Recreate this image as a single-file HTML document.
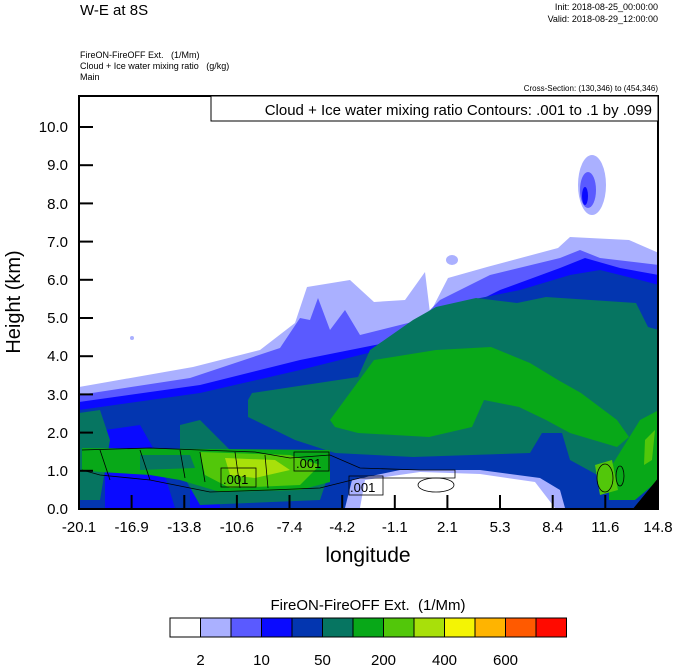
<!DOCTYPE html>
<html><head><meta charset="utf-8"><style>
html,body{margin:0;padding:0;background:#fff;}
svg{display:block;font-family:"Liberation Sans",sans-serif;}
</style></head><body>
<svg width="674" height="667" viewBox="0 0 674 667" xmlns="http://www.w3.org/2000/svg">
<rect width="674" height="667" fill="#fff"/>
<text x="80" y="15" font-size="15">W-E at 8S</text>
<text x="658" y="10" font-size="9" text-anchor="end">Init: 2018-08-25_00:00:00</text>
<text x="658" y="22" font-size="9" text-anchor="end">Valid: 2018-08-29_12:00:00</text>
<text x="80" y="58" font-size="9" xml:space="preserve">FireON-FireOFF Ext.   (1/Mm)</text>
<text x="80" y="69" font-size="9" xml:space="preserve">Cloud + Ice water mixing ratio   (g/kg)</text>
<text x="80" y="80" font-size="9">Main</text>
<text x="658" y="91" font-size="8" text-anchor="end">Cross-Section: (130,346) to (454,346)</text>
<defs><clipPath id="c"><rect x="79" y="96" width="579" height="413"/></clipPath></defs>
<g clip-path="url(#c)">
<polygon fill="#aab0ff" points="79,387 193,367 260,350 295,323 307,287 350,280 374,302 405,300 425,272 430,313 448,278 487,267 558,248 570,237 629,240 659,253 659,510 79,510"/>
<polygon fill="#5a5aff" points="79,395 190,378 280,348 300,318 310,320 318,298 330,330 345,310 360,335 420,320 440,300 490,275 560,258 580,250 600,258 659,265 659,510 79,510"/>
<polygon fill="#0a0aff" points="79,402 200,385 300,360 400,340 440,320 500,290 560,268 585,258 620,268 659,275 659,510 79,510"/>
<polygon fill="#0336b0" points="79,410 200,393 300,370 380,350 430,330 470,300 520,290 570,275 600,270 640,280 659,285 659,510 79,510"/>
<ellipse cx="592" cy="185" rx="14" ry="30" fill="#aab0ff"/>
<ellipse cx="588" cy="190" rx="8" ry="18" fill="#5a5aff"/>
<ellipse cx="585" cy="196" rx="3" ry="9" fill="#0a0aff"/>
<ellipse cx="452" cy="260" rx="6" ry="5" fill="#aab0ff"/>
<circle cx="132" cy="338" r="2" fill="#aab0ff"/>
<polygon fill="#0a0aff" points="105,430 140,425 160,460 175,508 105,508"/>
<polygon fill="#0a0aff" points="190,430 215,440 220,508 190,508"/>
<polygon fill="#067561" points="248,400 252,393 358,377 370,350 413,320 436,307 476,298 517,303 546,297 636,303 648,327 659,330 659,487 601,477 570,460 562,433 542,433 530,453 413,457 335,453 295,440 248,417"/>
<polygon fill="#067561" points="79,413 100,410 110,440 100,500 79,500"/>
<polygon fill="#067561" points="180,425 200,420 230,450 300,455 330,470 320,500 200,505 180,470"/>
<polygon fill="#aab0ff" points="345,508 352,480 400,470 480,470 540,478 560,490 565,508"/>
<polygon fill="#fff" points="360,508 365,480 420,472 480,474 535,482 555,508"/>
<polygon fill="#08a818" points="330,420 374,360 436,350 491,347 530,363 558,380 581,393 617,420 629,437 617,447 570,433 546,420 519,407 484,400 472,427 429,437 358,433 335,427"/>
<polygon fill="#08a818" points="609,470 640,420 659,410 659,480 635,500 609,500"/>
<polygon fill="#52c70a" points="645,440 655,430 652,460 644,465"/>
<polygon fill="#08a818" points="82,448 330,450 330,482 300,490 220,492 180,480 150,475 100,472 82,470"/>
<polygon fill="#52c70a" points="200,452 290,455 320,465 300,485 230,488 205,475"/>
<polygon fill="#a8e00a" points="225,458 275,460 290,470 255,478 230,475"/>
<polygon fill="#067561" points="140,455 190,455 195,468 140,470"/>
<polygon fill="#52c70a" points="595,465 612,460 618,490 600,495"/>
<polygon fill="#000" points="632,510 659,477 659,510"/>
<g fill="none" stroke="#000" stroke-width="0.8">
<path d="M82,450 L150,448 L200,450 L255,452 L290,458 L330,455 L360,468 L420,470 L455,470 L455,478 L420,478 L360,478 L320,488 L270,490 L210,492 L150,480 L100,475 L82,470"/>
<path d="M100,450 L110,480 M140,450 L150,480 M180,450 L185,478 M200,452 L205,482 M235,452 L240,488 M265,455 L268,488"/>
<ellipse cx="436" cy="485" rx="18" ry="7"/>
<ellipse cx="605" cy="478" rx="8" ry="14"/>
<ellipse cx="620" cy="476" rx="4" ry="10"/>
</g>
<g font-size="13">
<rect x="221" y="468" width="35" height="19" fill="none" stroke="#000" stroke-width="0.8"/>
<text x="223" y="484">.001</text>
<rect x="294" y="452" width="35" height="19" fill="none" stroke="#000" stroke-width="0.8"/>
<text x="296" y="468">.001</text>
<rect x="349" y="476" width="34" height="19" fill="none" stroke="#000" stroke-width="0.8"/>
<text x="350" y="492">.001</text>
</g>
</g>
<rect x="79" y="96" width="579" height="413" fill="none" stroke="#000" stroke-width="2"/>
<rect x="211" y="96" width="447" height="25" fill="#fff" stroke="#000" stroke-width="1"/>
<text x="652" y="115" font-size="15" text-anchor="end">Cloud + Ice water mixing ratio Contours: .001 to .1 by .099</text>
<g stroke="#000" stroke-width="2">
<line x1="79" y1="470.8" x2="93" y2="470.8"/><line x1="79" y1="432.6" x2="93" y2="432.6"/>
<line x1="79" y1="394.4" x2="93" y2="394.4"/><line x1="79" y1="356.2" x2="93" y2="356.2"/>
<line x1="79" y1="318" x2="93" y2="318"/><line x1="79" y1="279.8" x2="93" y2="279.8"/>
<line x1="79" y1="241.6" x2="93" y2="241.6"/><line x1="79" y1="203.4" x2="93" y2="203.4"/>
<line x1="79" y1="165.2" x2="93" y2="165.2"/><line x1="79" y1="127" x2="93" y2="127"/>
<line x1="131.6" y1="509" x2="131.6" y2="495"/><line x1="184.3" y1="509" x2="184.3" y2="495"/>
<line x1="236.9" y1="509" x2="236.9" y2="495"/><line x1="289.5" y1="509" x2="289.5" y2="495"/>
<line x1="342.2" y1="509" x2="342.2" y2="495"/><line x1="394.8" y1="509" x2="394.8" y2="495"/>
<line x1="447.4" y1="509" x2="447.4" y2="495"/><line x1="500" y1="509" x2="500" y2="495"/>
<line x1="552.7" y1="509" x2="552.7" y2="495"/><line x1="605.3" y1="509" x2="605.3" y2="495"/>
</g>
<g font-size="15" text-anchor="end">
<text x="68" y="514">0.0</text><text x="68" y="476">1.0</text><text x="68" y="438">2.0</text>
<text x="68" y="400">3.0</text><text x="68" y="361">4.0</text><text x="68" y="323">5.0</text>
<text x="68" y="285">6.0</text><text x="68" y="247">7.0</text><text x="68" y="209">8.0</text>
<text x="68" y="170">9.0</text><text x="68" y="132">10.0</text>
</g>
<g font-size="15" text-anchor="middle">
<text x="79" y="532">-20.1</text><text x="131.6" y="532">-16.9</text><text x="184.3" y="532">-13.8</text>
<text x="236.9" y="532">-10.6</text><text x="289.5" y="532">-7.4</text><text x="342.2" y="532">-4.2</text>
<text x="394.8" y="532">-1.1</text><text x="447.4" y="532">2.1</text><text x="500" y="532">5.3</text>
<text x="552.7" y="532">8.4</text><text x="605.3" y="532">11.6</text><text x="658" y="532">14.8</text>
</g>
<text x="368" y="562" font-size="21" text-anchor="middle">longitude</text>
<text transform="translate(20,302) rotate(-90)" font-size="20" text-anchor="middle">Height (km)</text>
<text x="368" y="610" font-size="15" text-anchor="middle" xml:space="preserve">FireON-FireOFF Ext.  (1/Mm)</text>
<g stroke="#000" stroke-width="1">
<rect x="170" y="618" width="30.5" height="19" fill="#fff"/>
<rect x="200.5" y="618" width="30.5" height="19" fill="#aab0ff"/>
<rect x="231" y="618" width="30.5" height="19" fill="#5a5aff"/>
<rect x="261.5" y="618" width="30.5" height="19" fill="#0a0aff"/>
<rect x="292" y="618" width="30.5" height="19" fill="#0336b0"/>
<rect x="322.5" y="618" width="30.5" height="19" fill="#067561"/>
<rect x="353" y="618" width="30.5" height="19" fill="#08a818"/>
<rect x="383.5" y="618" width="30.5" height="19" fill="#52c70a"/>
<rect x="414" y="618" width="30.5" height="19" fill="#a8e00a"/>
<rect x="444.5" y="618" width="30.5" height="19" fill="#f4f404"/>
<rect x="475" y="618" width="30.5" height="19" fill="#ffb400"/>
<rect x="505.5" y="618" width="30.5" height="19" fill="#ff5a00"/>
<rect x="536" y="618" width="30.5" height="19" fill="#ff0a00"/>
</g>
<g font-size="15" text-anchor="middle">
<text x="200.5" y="665">2</text><text x="261.5" y="665">10</text><text x="322.5" y="665">50</text>
<text x="383.5" y="665">200</text><text x="444.5" y="665">400</text><text x="505.5" y="665">600</text>
</g>
</svg>
</body></html>
